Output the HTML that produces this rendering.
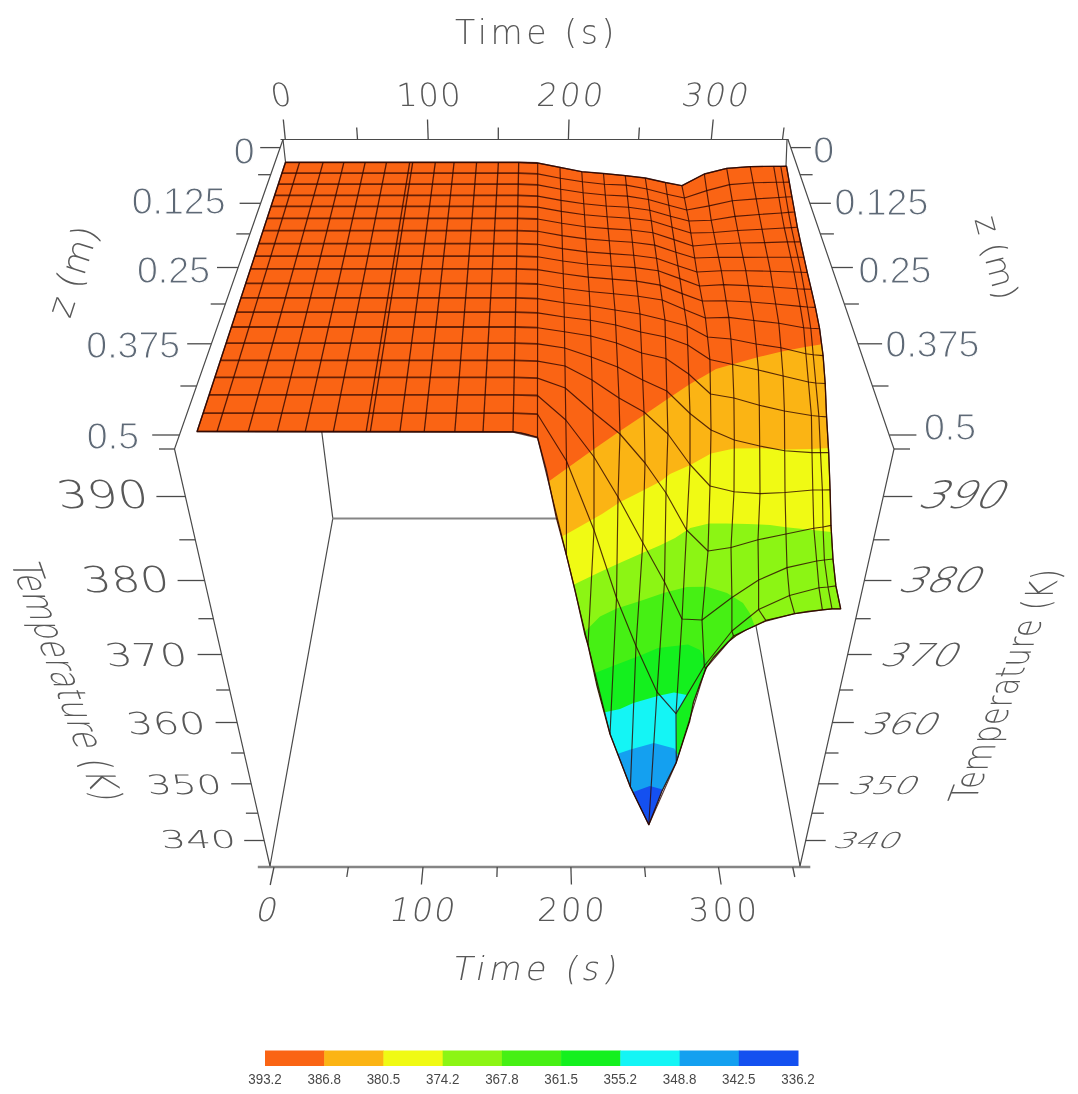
<!DOCTYPE html>
<html><head><meta charset="utf-8"><title>Temperature surface</title>
<style>html,body{margin:0;padding:0;background:#fff}svg{display:block;filter:blur(0.4px)}</style></head>
<body>
<svg width="1078" height="1094" viewBox="0 0 1078 1094">
<rect width="1078" height="1094" fill="#fff"/>
<defs><clipPath id="surf"><polygon points="285.5,162.3 518.7,162.3 537.7,163.0 560.0,167.4 581.8,171.7 603.5,173.5 625.3,175.6 645.3,178.0 665.4,182.5 681.9,185.7 704.3,174.0 726.7,168.4 750.2,166.6 773.7,166.3 780.8,166.3 786.5,166.2 789.3,182.1 791.9,196.7 794.7,212.0 797.4,227.3 800.5,241.9 803.9,257.2 807.3,272.5 811.3,289.3 815.4,307.4 819.6,328.7 823.1,355.6 825.2,383.5 826.6,416.9 828.7,452.6 830.1,489.9 831.0,525.4 833.0,559.0 835.9,585.9 840.7,608.9 832.0,608.9 822.4,609.9 808.0,611.5 794.6,613.7 780.0,617.3 765.8,621.0 756.0,625.5 746.0,630.0 736.9,635.1 728.0,642.0 720.2,650.2 713.0,658.0 706.8,666.8 700.0,684.0 693.5,702.0 689.6,721.6 683.5,740.0 676.3,762.4 662.0,791.0 648.8,824.7 630.4,787.0 610.0,734.0 597.0,686.0 588.0,645.0 585.0,635.0 575.1,590.3 566.4,555.2 556.3,517.7 546.3,470.0 537.5,437.5 529.0,435.0 521.0,433.0 513.0,432.0 197.0,431.7"/></clipPath></defs>
<g stroke="#4a4a4a" stroke-width="1.2" fill="none" stroke-linecap="round">
<polyline points="281,139.5 788,139.5"/>
<polyline points="283,139.5 174.5,449 270,866"/>
<polyline points="788,139.5 894,449 800,866"/>
<polyline points="257.8,867 810.3,867" stroke="#858585" stroke-width="2.4" stroke-linecap="butt"/>
<polyline points="283,139.5 285.5,162"/>
<polyline points="787,139.5 786,166"/>
<polyline points="321.8,432 332.8,518.5 270,866"/>
<polyline points="332.8,518.5 560,518.5" stroke="#858585" stroke-width="1.8"/>
<polyline points="754.9,620 800,866"/>
</g>
<g clip-path="url(#surf)">
<rect x="150" y="150" width="720" height="700" fill="#fa6414"/>
<polygon points="540.0,487.0 550.0,480.4 594.0,449.0 620.0,431.0 644.0,415.0 669.0,398.0 690.0,384.0 705.0,375.5 716.0,369.0 733.5,364.0 758.6,357.0 781.7,351.4 805.0,347.0 822.0,344.3 850.0,342.0 900.0,900.0 500.0,900.0" fill="#fbb414"/>
<polygon points="555.0,540.0 568.9,532.7 602.0,514.0 620.2,502.0 644.0,490.0 660.3,481.4 670.0,474.0 690.3,465.0 711.0,453.6 734.0,448.5 760.0,448.3 786.0,449.5 811.0,449.0 828.5,448.0 850.0,447.0 900.0,900.0 500.0,900.0" fill="#f0fa14"/>
<polygon points="565.0,589.0 577.6,582.8 600.0,572.0 620.2,562.8 640.0,554.0 660.3,545.2 675.0,538.0 690.3,528.0 709.0,523.5 725.4,523.5 747.6,524.0 770.0,525.0 786.0,527.3 812.8,530.0 831.0,532.0 850.0,533.0 900.0,900.0 500.0,900.0" fill="#8cf514"/>
<polygon points="570.0,641.0 584.5,632.0 600.0,616.5 616.7,608.5 641.7,600.5 664.3,592.8 686.8,586.9 707.0,586.7 727.0,593.0 743.0,603.0 750.0,613.4 755.0,626.8 757.0,640.0 757.0,900.0 500.0,900.0" fill="#46f014"/>
<polygon points="585.0,677.0 597.5,672.0 618.0,664.0 641.7,655.0 658.0,648.0 675.0,646.0 688.0,644.5 700.0,650.0 707.0,662.0 709.0,680.0 709.0,900.0 500.0,900.0" fill="#14f01e"/>
<polygon points="595.0,716.0 606.0,712.0 620.0,709.0 633.4,703.0 657.6,696.0 674.0,692.5 687.0,695.0 676.5,714.0 676.3,762.4 677.0,900.0 500.0,900.0" fill="#14f5f5"/>
<polygon points="605.0,758.0 618.5,753.5 631.4,749.2 653.9,743.0 674.3,748.5 679.0,757.0 680.0,900.0 500.0,900.0" fill="#14a0f0"/>
<polygon points="620.0,797.0 632.0,792.5 649.8,786.0 664.5,790.0 670.0,795.0 670.0,900.0 500.0,900.0" fill="#1450f0"/>
</g>
<g stroke="#2e0600" stroke-opacity="0.8" stroke-width="1.3" fill="none" stroke-linejoin="round">
<polyline stroke-width="1.8" stroke-opacity="0.72" points="285.5,162.3 518.7,162.3 537.7,163.0"/>
<polyline stroke-width="1.8" stroke-opacity="0.72" points="281.9,173.2 518.5,173.2 537.7,173.9"/>
<polyline stroke-width="1.8" stroke-opacity="0.72" points="278.3,184.2 518.2,184.2 537.7,184.9"/>
<polyline stroke-width="1.8" stroke-opacity="0.72" points="274.6,195.4 518.0,195.4 537.7,196.1"/>
<polyline stroke-width="1.8" stroke-opacity="0.72" points="271.0,206.4 517.8,206.4 537.7,207.1"/>
<polyline stroke-width="1.8" stroke-opacity="0.72" points="267.1,218.3 517.5,218.3 537.7,219.0"/>
<polyline stroke-width="1.8" stroke-opacity="0.72" points="263.0,230.6 517.3,230.6 537.7,231.3"/>
<polyline stroke-width="1.8" stroke-opacity="0.72" points="258.8,243.6 517.0,243.6 537.6,244.3"/>
<polyline stroke-width="1.8" stroke-opacity="0.72" points="254.6,256.1 516.7,256.1 537.6,256.8"/>
<polyline stroke-width="1.8" stroke-opacity="0.72" points="250.4,268.9 516.4,268.9 537.6,269.6"/>
<polyline stroke-width="1.8" stroke-opacity="0.72" points="245.7,283.3 516.1,283.3 537.6,284.0"/>
<polyline stroke-width="1.8" stroke-opacity="0.72" points="240.9,297.9 515.8,297.9 537.6,298.6"/>
<polyline stroke-width="1.8" stroke-opacity="0.72" points="236.2,312.2 515.5,312.2 537.6,312.9"/>
<polyline stroke-width="1.8" stroke-opacity="0.72" points="231.3,327.0 515.2,327.0 537.6,327.7"/>
<polyline stroke-width="1.8" stroke-opacity="0.72" points="226.0,343.2 514.9,343.2 537.6,343.9"/>
<polyline stroke-width="1.8" stroke-opacity="0.72" points="220.3,360.4 514.5,360.4 537.6,361.1"/>
<polyline stroke-width="1.8" stroke-opacity="0.72" points="214.7,377.4 514.1,377.4 537.5,378.1"/>
<polyline stroke-width="1.8" stroke-opacity="0.72" points="209.0,394.8 513.8,394.8 537.5,395.5"/>
<polyline stroke-width="1.8" stroke-opacity="0.72" points="203.0,413.1 513.4,413.1 537.5,414.2"/>
<polyline stroke-width="1.8" stroke-opacity="0.72" points="197.0,431.3 513.0,431.8 537.5,437.5"/>
<polyline points="285.5,162.3 197.0,431.8"/>
<polyline points="299.6,162.3 217.0,431.8"/>
<polyline points="323.1,162.3 248.1,431.8"/>
<polyline points="343.9,162.3 277.2,431.8"/>
<polyline points="365.2,162.3 305.2,431.8"/>
<polyline points="386.5,162.3 333.3,431.8"/>
<polyline points="409.7,162.3 366.1,431.8"/>
<polyline points="412.7,162.3 370.3,431.8"/>
<polyline points="435.3,162.3 399.9,431.8"/>
<polyline points="454.1,162.3 424.2,431.8"/>
<polyline points="476.6,162.3 454.8,431.8"/>
<polyline points="498.4,162.3 483.0,431.8"/>
<polyline points="518.7,162.3 513.0,431.8"/>
<polyline stroke-width="1.15" points="537.7,163.0 560.0,167.4 581.8,171.7 603.5,173.5 625.3,175.6 645.3,178.0 665.4,182.5 681.9,185.7 704.3,174.0 726.7,168.4 750.2,166.6 773.7,166.3 780.8,166.3 786.5,166.2"/>
<polyline stroke-width="1.15" points="537.7,173.9 560.3,178.3 582.4,181.7 604.4,184.2 626.3,185.1 646.9,189.0 667.1,194.2 684.4,198.0 706.7,190.6 729.5,184.6 753.2,182.7 776.4,182.3 783.5,182.2 789.3,182.1"/>
<polyline stroke-width="1.15" points="537.7,184.9 560.7,189.3 583.1,192.7 605.3,195.0 627.4,196.1 648.4,199.5 668.8,205.2 686.7,210.0 709.1,205.9 732.3,200.8 756.2,198.9 778.9,197.5 785.9,197.0 791.9,196.7"/>
<polyline stroke-width="1.15" points="537.7,196.1 561.0,200.4 583.8,203.8 606.2,206.0 628.6,207.2 649.8,210.3 670.5,216.3 688.9,221.0 711.2,220.3 735.0,216.4 759.1,214.5 781.5,213.0 788.5,212.4 794.7,212.0"/>
<polyline stroke-width="1.15" points="537.7,207.1 561.3,211.4 584.5,214.8 607.1,216.8 629.8,218.2 651.3,220.8 672.1,227.3 690.8,233.0 713.6,232.5 737.7,230.5 762.0,229.2 784.3,228.0 791.4,227.6 797.4,227.3"/>
<polyline stroke-width="1.15" points="537.7,219.0 561.7,223.3 585.2,226.7 608.1,228.6 631.1,230.0 652.9,232.8 674.0,239.6 692.9,246.0 715.9,244.0 740.2,243.0 764.6,242.6 787.4,241.9 794.5,241.9 800.5,241.9"/>
<polyline stroke-width="1.15" points="537.7,231.3 562.1,235.6 585.9,238.9 609.2,240.8 632.4,242.2 654.7,245.1 675.9,252.3 694.7,258.0 718.6,257.3 743.1,257.3 767.6,257.2 790.8,257.2 797.9,257.2 803.9,257.2"/>
<polyline stroke-width="1.15" points="537.6,244.3 562.4,248.6 586.7,251.9 610.3,253.6 633.7,255.2 656.5,258.2 677.9,265.7 696.9,272.0 721.3,270.7 745.8,270.7 770.4,271.2 794.0,272.0 801.2,272.3 807.3,272.5"/>
<polyline stroke-width="1.15" points="537.6,256.8 562.8,261.0 587.5,264.3 611.3,266.0 635.1,267.6 658.2,270.8 679.9,278.6 699.5,286.0 723.6,284.6 748.2,285.6 772.9,287.0 797.1,288.8 804.2,289.1 811.3,289.3"/>
<polyline stroke-width="1.15" points="537.6,269.6 563.2,273.8 588.3,277.1 612.4,279.1 636.5,281.1 660.2,285.1 682.1,293.6 702.3,301.0 726.1,300.7 750.8,302.0 775.7,304.0 800.2,306.4 807.4,307.0 815.4,307.4"/>
<polyline stroke-width="1.15" points="537.6,284.0 563.6,288.2 589.2,291.5 613.6,293.8 638.1,296.2 662.2,300.0 684.5,309.5 705.4,318.0 728.8,317.4 753.8,320.5 778.8,323.3 803.7,327.8 810.8,328.3 819.6,328.7"/>
<polyline stroke-width="1.15" points="537.6,298.6 564.0,302.8 590.0,306.0 615.0,310.0 640.0,314.0 665.0,320.0 687.0,326.0 707.5,337.0 730.9,339.0 756.1,344.0 780.9,347.7 805.9,353.7 813.2,354.8 823.1,355.6"/>
<polyline stroke-width="1.15" points="537.6,312.9 564.3,317.0 590.4,320.3 615.7,325.0 640.7,332.0 665.4,337.0 687.7,345.0 709.9,359.5 732.6,364.5 758.4,370.0 783.1,376.0 808.4,382.0 815.8,383.0 825.2,383.5"/>
<polyline stroke-width="1.15" points="537.6,327.7 564.5,331.8 590.8,336.0 616.5,343.0 641.6,353.0 666.0,358.5 688.7,374.0 710.5,394.0 733.9,398.0 759.3,405.3 784.4,411.0 811.4,415.5 818.9,416.3 826.6,416.9"/>
<polyline stroke-width="1.15" points="537.6,343.9 564.7,348.0 591.4,357.0 617.6,367.0 642.7,380.0 666.8,391.0 690.0,413.5 711.0,430.0 734.3,440.0 759.7,446.0 784.7,450.8 812.0,452.6 820.5,452.6 828.7,452.6"/>
<polyline stroke-width="1.15" points="537.6,361.1 565.0,366.0 592.0,380.0 619.0,398.0 644.0,412.0 667.9,434.0 690.0,464.5 710.0,486.0 734.0,491.8 760.0,493.6 785.0,492.5 812.8,490.0 822.4,490.0 830.1,489.9"/>
<polyline stroke-width="1.15" points="537.5,378.1 565.3,388.0 592.9,412.0 620.0,434.0 645.0,463.0 666.0,493.0 686.6,530.0 708.0,551.0 731.0,547.5 758.0,539.8 786.0,534.0 813.8,528.3 823.0,527.0 831.0,525.4"/>
<polyline stroke-width="1.15" points="537.5,395.5 565.8,420.0 594.0,457.0 618.0,497.0 642.8,542.7 664.5,582.0 682.0,619.0 702.0,620.0 731.9,597.5 758.6,580.0 787.0,567.6 816.7,561.0 824.4,560.0 833.0,559.0"/>
<polyline stroke-width="1.15" points="537.5,414.2 566.5,461.0 594.0,530.0 616.5,598.0 636.0,646.0 657.0,692.0 676.0,713.6 704.3,666.0 731.9,631.0 758.6,609.5 789.5,595.5 819.0,587.8 828.0,587.0 835.9,585.9"/>
<polyline stroke-width="1.15" points="537.5,437.5 566.4,555.0 588.0,645.0 610.0,734.0 630.4,787.0 648.8,824.7 676.3,762.4 705.5,668.5 733.5,636.0 765.8,620.4 794.6,613.7 822.4,609.9 832.0,608.9 840.7,608.9"/>
<polyline stroke-width="1.15" points="537.7,163.0 537.7,173.9 537.7,184.9 537.7,196.1 537.7,207.1 537.7,219.0 537.7,231.3 537.6,244.3 537.6,256.8 537.6,269.6 537.6,284.0 537.6,298.6 537.6,312.9 537.6,327.7 537.6,343.9 537.6,361.1 537.5,378.1 537.5,395.5 537.5,414.2 537.5,437.5"/>
<polyline stroke-width="1.15" points="560.0,167.4 560.3,178.3 560.7,189.3 561.0,200.4 561.3,211.4 561.7,223.3 562.1,235.6 562.4,248.6 562.8,261.0 563.2,273.8 563.6,288.2 564.0,302.8 564.3,317.0 564.5,331.8 564.7,348.0 565.0,366.0 565.3,388.0 565.8,420.0 566.5,461.0 566.4,555.0"/>
<polyline stroke-width="1.15" points="581.8,171.7 582.4,181.7 583.1,192.7 583.8,203.8 584.5,214.8 585.2,226.7 585.9,238.9 586.7,251.9 587.5,264.3 588.3,277.1 589.2,291.5 590.0,306.0 590.4,320.3 590.8,336.0 591.4,357.0 592.0,380.0 592.9,412.0 594.0,457.0 594.0,530.0 588.0,645.0"/>
<polyline stroke-width="1.15" points="603.5,173.5 604.4,184.2 605.3,195.0 606.2,206.0 607.1,216.8 608.1,228.6 609.2,240.8 610.3,253.6 611.3,266.0 612.4,279.1 613.6,293.8 615.0,310.0 615.7,325.0 616.5,343.0 617.6,367.0 619.0,398.0 620.0,434.0 618.0,497.0 616.5,598.0 610.0,734.0"/>
<polyline stroke-width="1.15" points="625.3,175.6 626.3,185.1 627.4,196.1 628.6,207.2 629.8,218.2 631.1,230.0 632.4,242.2 633.7,255.2 635.1,267.6 636.5,281.1 638.1,296.2 640.0,314.0 640.7,332.0 641.6,353.0 642.7,380.0 644.0,412.0 645.0,463.0 642.8,542.7 636.0,646.0 630.4,787.0"/>
<polyline stroke-width="1.15" points="645.3,178.0 646.9,189.0 648.4,199.5 649.8,210.3 651.3,220.8 652.9,232.8 654.7,245.1 656.5,258.2 658.2,270.8 660.2,285.1 662.2,300.0 665.0,320.0 665.4,337.0 666.0,358.5 666.8,391.0 667.9,434.0 666.0,493.0 664.5,582.0 657.0,692.0 648.8,824.7"/>
<polyline stroke-width="1.15" points="665.4,182.5 667.1,194.2 668.8,205.2 670.5,216.3 672.1,227.3 674.0,239.6 675.9,252.3 677.9,265.7 679.9,278.6 682.1,293.6 684.5,309.5 687.0,326.0 687.7,345.0 688.7,374.0 690.0,413.5 690.0,464.5 686.6,530.0 682.0,619.0 676.0,713.6 676.3,762.4"/>
<polyline stroke-width="1.15" points="681.9,185.7 684.4,198.0 686.7,210.0 688.9,221.0 690.8,233.0 692.9,246.0 694.7,258.0 696.9,272.0 699.5,286.0 702.3,301.0 705.4,318.0 707.5,337.0 709.9,359.5 710.5,394.0 711.0,430.0 710.0,486.0 708.0,551.0 702.0,620.0 704.3,666.0 705.5,668.5"/>
<polyline stroke-width="1.15" points="704.3,174.0 706.7,190.6 709.1,205.9 711.2,220.3 713.6,232.5 715.9,244.0 718.6,257.3 721.3,270.7 723.6,284.6 726.1,300.7 728.8,317.4 730.9,339.0 732.6,364.5 733.9,398.0 734.3,440.0 734.0,491.8 731.0,547.5 731.9,597.5 731.9,631.0 733.5,636.0"/>
<polyline stroke-width="1.15" points="726.7,168.4 729.5,184.6 732.3,200.8 735.0,216.4 737.7,230.5 740.2,243.0 743.1,257.3 745.8,270.7 748.2,285.6 750.8,302.0 753.8,320.5 756.1,344.0 758.4,370.0 759.3,405.3 759.7,446.0 760.0,493.6 758.0,539.8 758.6,580.0 758.6,609.5 765.8,620.4"/>
<polyline stroke-width="1.15" points="750.2,166.6 753.2,182.7 756.2,198.9 759.1,214.5 762.0,229.2 764.6,242.6 767.6,257.2 770.4,271.2 772.9,287.0 775.7,304.0 778.8,323.3 780.9,347.7 783.1,376.0 784.4,411.0 784.7,450.8 785.0,492.5 786.0,534.0 787.0,567.6 789.5,595.5 794.6,613.7"/>
<polyline stroke-width="1.15" points="773.7,166.3 776.4,182.3 778.9,197.5 781.5,213.0 784.3,228.0 787.4,241.9 790.8,257.2 794.0,272.0 797.1,288.8 800.2,306.4 803.7,327.8 805.9,353.7 808.4,382.0 811.4,415.5 812.0,452.6 812.8,490.0 813.8,528.3 816.7,561.0 819.0,587.8 822.4,609.9"/>
<polyline stroke-width="1.15" points="780.8,166.3 783.5,182.2 785.9,197.0 788.5,212.4 791.4,227.6 794.5,241.9 797.9,257.2 801.2,272.3 804.2,289.1 807.4,307.0 810.8,328.3 813.2,354.8 815.8,383.0 818.9,416.3 820.5,452.6 822.4,490.0 823.0,527.0 824.4,560.0 828.0,587.0 832.0,608.9"/>
<polyline stroke-width="1.15" points="786.5,166.2 789.3,182.1 791.9,196.7 794.7,212.0 797.4,227.3 800.5,241.9 803.9,257.2 807.3,272.5 811.3,289.3 815.4,307.4 819.6,328.7 823.1,355.6 825.2,383.5 826.6,416.9 828.7,452.6 830.1,489.9 831.0,525.4 833.0,559.0 835.9,585.9 840.7,608.9"/>
</g>
<polygon points="285.5,162.3 518.7,162.3 537.7,163.0 560.0,167.4 581.8,171.7 603.5,173.5 625.3,175.6 645.3,178.0 665.4,182.5 681.9,185.7 704.3,174.0 726.7,168.4 750.2,166.6 773.7,166.3 780.8,166.3 786.5,166.2 789.3,182.1 791.9,196.7 794.7,212.0 797.4,227.3 800.5,241.9 803.9,257.2 807.3,272.5 811.3,289.3 815.4,307.4 819.6,328.7 823.1,355.6 825.2,383.5 826.6,416.9 828.7,452.6 830.1,489.9 831.0,525.4 833.0,559.0 835.9,585.9 840.7,608.9 832.0,608.9 822.4,609.9 808.0,611.5 794.6,613.7 780.0,617.3 765.8,621.0 756.0,625.5 746.0,630.0 736.9,635.1 728.0,642.0 720.2,650.2 713.0,658.0 706.8,666.8 700.0,684.0 693.5,702.0 689.6,721.6 683.5,740.0 676.3,762.4 662.0,791.0 648.8,824.7 630.4,787.0 610.0,734.0 597.0,686.0 588.0,645.0 585.0,635.0 575.1,590.3 566.4,555.2 556.3,517.7 546.3,470.0 537.5,437.5 529.0,435.0 521.0,433.0 513.0,432.0 197.0,431.7" fill="none" stroke="#2e0600" stroke-opacity="0.85" stroke-width="1.3" stroke-linejoin="round"/>
<g stroke="#4a4a4a" stroke-width="1.3" fill="none">
<line x1="285.3" y1="139.5" x2="283.3" y2="119.5"/>
<line x1="357.5" y1="139.5" x2="356.7" y2="127.5"/>
<line x1="428.2" y1="139.5" x2="427.5" y2="119.5"/>
<line x1="498.3" y1="139.5" x2="498.3" y2="127.5"/>
<line x1="568.4" y1="139.5" x2="569.0" y2="119.5"/>
<line x1="638.6" y1="139.5" x2="639.4" y2="127.5"/>
<line x1="711.3" y1="139.5" x2="713.2" y2="119.5"/>
<line x1="782.5" y1="139.5" x2="784.0" y2="127.5"/>
<line x1="274" y1="867" x2="270.2" y2="885"/>
<line x1="348.3" y1="867" x2="346.8" y2="877"/>
<line x1="423" y1="867" x2="421.4" y2="884.5"/>
<line x1="497.2" y1="867" x2="496.9" y2="877"/>
<line x1="570.9" y1="867" x2="571.4" y2="884.5"/>
<line x1="644.6" y1="867" x2="645.5" y2="877"/>
<line x1="718.5" y1="867" x2="721.1" y2="884.5"/>
<line x1="792.7" y1="867" x2="794.8" y2="877"/>
<line x1="280.2" y1="147.6" x2="260.2" y2="147.6"/>
<line x1="270.6" y1="174.7" x2="258.1" y2="174.7"/>
<line x1="260.6" y1="203.3" x2="239.6" y2="203.3"/>
<line x1="249.8" y1="233.9" x2="236.3" y2="233.9"/>
<line x1="238.0" y1="267.5" x2="217.0" y2="267.5"/>
<line x1="225.2" y1="304" x2="210.7" y2="304"/>
<line x1="211.2" y1="343.8" x2="187.2" y2="343.8"/>
<line x1="196.4" y1="386" x2="180.4" y2="386"/>
<line x1="179.2" y1="435" x2="152.2" y2="435"/>
<line x1="174.5" y1="449" x2="159" y2="449"/>
<line x1="790.8" y1="147.6" x2="810.8" y2="147.6"/>
<line x1="800.1" y1="174.7" x2="812.6" y2="174.7"/>
<line x1="809.9" y1="203.3" x2="830.9" y2="203.3"/>
<line x1="820.4" y1="233.9" x2="833.9" y2="233.9"/>
<line x1="831.9" y1="267.5" x2="852.9" y2="267.5"/>
<line x1="844.4" y1="304" x2="858.9" y2="304"/>
<line x1="858.1" y1="343.8" x2="882.1" y2="343.8"/>
<line x1="872.5" y1="386" x2="888.5" y2="386"/>
<line x1="889.4" y1="435" x2="916.4" y2="435"/>
<line x1="894" y1="449" x2="910" y2="449"/>
<line x1="185.4" y1="496.5" x2="156.4" y2="496.5"/>
<line x1="883.3" y1="496.5" x2="912.3" y2="496.5"/>
<line x1="195.3" y1="539.8" x2="179.3" y2="539.8"/>
<line x1="873.5" y1="539.8" x2="889.5" y2="539.8"/>
<line x1="204.6" y1="580.5" x2="177.6" y2="580.5"/>
<line x1="864.4" y1="580.5" x2="891.4" y2="580.5"/>
<line x1="213.4" y1="618.7" x2="198.4" y2="618.7"/>
<line x1="855.7" y1="618.7" x2="870.7" y2="618.7"/>
<line x1="221.6" y1="654.5" x2="197.6" y2="654.5"/>
<line x1="847.7" y1="654.5" x2="871.7" y2="654.5"/>
<line x1="229.7" y1="690" x2="216.2" y2="690"/>
<line x1="839.7" y1="690" x2="853.2" y2="690"/>
<line x1="237.1" y1="722.5" x2="215.6" y2="722.5"/>
<line x1="832.3" y1="722.5" x2="853.8" y2="722.5"/>
<line x1="244.1" y1="753" x2="231.1" y2="753"/>
<line x1="825.5" y1="753" x2="838.5" y2="753"/>
<line x1="251.2" y1="783.8" x2="231.2" y2="783.8"/>
<line x1="818.5" y1="783.8" x2="838.5" y2="783.8"/>
<line x1="257.9" y1="813.2" x2="245.9" y2="813.2"/>
<line x1="811.9" y1="813.2" x2="823.9" y2="813.2"/>
<line x1="264.2" y1="840.5" x2="244.2" y2="840.5"/>
<line x1="805.7" y1="840.5" x2="825.7" y2="840.5"/>
</g>
<g style="font-family:'DejaVu Sans Light','DejaVu Sans','Liberation Sans',sans-serif;font-weight:200" fill="#585858" text-anchor="middle">
<text x="536.5" y="44.3" font-size="33" letter-spacing="3.6">Time (s)</text>
<text transform="translate(282.8,106.3) skewX(10)" font-size="32" letter-spacing="0">0</text>
<text transform="translate(430.2,106.3) skewX(4)" font-size="32" letter-spacing="1.4">100</text>
<text transform="translate(569.8,106.3) skewX(-8)" font-size="32" letter-spacing="2.4">200</text>
<text transform="translate(714.3,106.3) skewX(-12)" font-size="32" letter-spacing="2.4">300</text>
<text transform="translate(264.7,921) skewX(-13)" font-size="32.5" letter-spacing="0">0</text>
<text transform="translate(421.3,921) skewX(-10)" font-size="32.5" letter-spacing="1.5">100</text>
<text transform="translate(571.7,921) skewX(-4)" font-size="32.5" letter-spacing="2.6">200</text>
<text transform="translate(724.9,921) skewX(2)" font-size="32.5" letter-spacing="3.2">300</text>
<text transform="translate(535.2,979.5) skewX(-11)" font-size="33" letter-spacing="4.3">Time (s)</text>
<text transform="translate(104.7,508.2) skewX(10) scale(1.243,1)" font-size="38.4">390</text>
<text transform="translate(127.7,591.7) skewX(10) scale(1.277,1)" font-size="35.7">380</text>
<text transform="translate(148.0,666) skewX(10) scale(1.361,1)" font-size="31.6">370</text>
<text transform="translate(167.8,733.6) skewX(10) scale(1.366,1)" font-size="30.2">360</text>
<text transform="translate(185.7,794) skewX(10) scale(1.466,1)" font-size="26.7">350</text>
<text transform="translate(199.7,848.3) skewX(10) scale(1.592,1)" font-size="24.7">340</text>
<text transform="translate(958.0,507.6) skewX(-30) scale(1.163,1)" font-size="37.6">390</text>
<text transform="translate(936.5,592) skewX(-30) scale(1.211,1)" font-size="34.7">380</text>
<text transform="translate(916.1,666) skewX(-30) scale(1.247,1)" font-size="31.6">370</text>
<text transform="translate(897.1,733.6) skewX(-30) scale(1.309,1)" font-size="29.2">360</text>
<text transform="translate(880.3,794) skewX(-30) scale(1.423,1)" font-size="24.7">350</text>
<text transform="translate(864.6,848.3) skewX(-30) scale(1.578,1)" font-size="21.9">340</text>
<text transform="matrix(0.327,0.929,-1.28,0,10.1,560.9)" font-size="32" text-anchor="start">Temperature (K)</text>
<text transform="matrix(0.336,-0.899,1.2,0,975,801.5)" font-size="32" text-anchor="start">Temperature (K)</text>
<text transform="translate(75,272) rotate(-72)" font-size="36" y="10">z (m)</text>
<text transform="translate(995,258) rotate(75)" font-size="33" y="10">z (m)</text>
</g>
<g style="font-family:'Liberation Sans',sans-serif" fill="#5e6976" stroke="#fff" stroke-width="1.1" font-size="37.5">
<text x="254.5" y="164" text-anchor="end">0</text>
<text x="225.5" y="214" text-anchor="end">0.125</text>
<text x="210" y="283.3" text-anchor="end">0.25</text>
<text x="180.2" y="357.7" text-anchor="end">0.375</text>
<text x="139" y="449" text-anchor="end">0.5</text>
<text x="813.2" y="163.4">0</text>
<text x="834.4" y="215.4">0.125</text>
<text x="858.4" y="283.3">0.25</text>
<text x="885.6" y="357">0.375</text>
<text x="924" y="439.5">0.5</text>
</g>
<rect x="265.0" y="1050.5" width="59.7" height="15.5" fill="#fa6414"/>
<rect x="324.2" y="1050.5" width="59.7" height="15.5" fill="#fbb414"/>
<rect x="383.4" y="1050.5" width="59.7" height="15.5" fill="#f0fa14"/>
<rect x="442.7" y="1050.5" width="59.7" height="15.5" fill="#8cf514"/>
<rect x="501.9" y="1050.5" width="59.7" height="15.5" fill="#46f014"/>
<rect x="561.1" y="1050.5" width="59.7" height="15.5" fill="#14f01e"/>
<rect x="620.3" y="1050.5" width="59.7" height="15.5" fill="#14f5f5"/>
<rect x="679.6" y="1050.5" width="59.7" height="15.5" fill="#14a0f0"/>
<rect x="738.8" y="1050.5" width="59.7" height="15.5" fill="#1450f0"/>
<g style="font-family:'Liberation Sans',sans-serif" fill="#484848" font-size="14" text-anchor="middle">
<text x="265.0" y="1084" textLength="33.5" lengthAdjust="spacingAndGlyphs">393.2</text>
<text x="324.2" y="1084" textLength="33.5" lengthAdjust="spacingAndGlyphs">386.8</text>
<text x="383.4" y="1084" textLength="33.5" lengthAdjust="spacingAndGlyphs">380.5</text>
<text x="442.7" y="1084" textLength="33.5" lengthAdjust="spacingAndGlyphs">374.2</text>
<text x="501.9" y="1084" textLength="33.5" lengthAdjust="spacingAndGlyphs">367.8</text>
<text x="561.1" y="1084" textLength="33.5" lengthAdjust="spacingAndGlyphs">361.5</text>
<text x="620.3" y="1084" textLength="33.5" lengthAdjust="spacingAndGlyphs">355.2</text>
<text x="679.6" y="1084" textLength="33.5" lengthAdjust="spacingAndGlyphs">348.8</text>
<text x="738.8" y="1084" textLength="33.5" lengthAdjust="spacingAndGlyphs">342.5</text>
<text x="798.0" y="1084" textLength="33.5" lengthAdjust="spacingAndGlyphs">336.2</text>
</g>
</svg>
</body></html>
